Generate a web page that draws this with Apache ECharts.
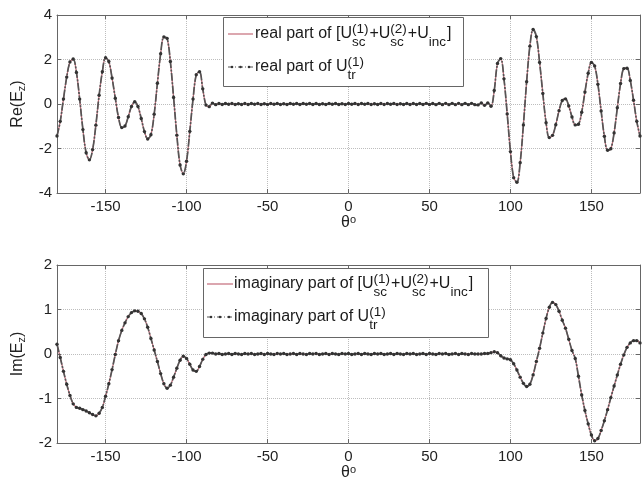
<!DOCTYPE html>
<html><head><meta charset="utf-8">
<script src="https://cdn.jsdelivr.net/npm/echarts@6/dist/echarts.min.js"></script>
<style>html,body{margin:0;padding:0;background:#fff}#c{width:642px;height:486px}</style>
</head><body><div id="c"></div>
<script>
// sample angles (degrees), every 2 degrees from -180 to 180
const theta = [];
for (let a = -180; a <= 180; a += 2) theta.push(a);

// Re(E_z)
const reValues = [
 -1.44,-0.78,0.23,1.21,1.89,2.02,1.42,0.22,-1.15,-2.19,
 -2.51,-2.05,-0.95,0.39,1.45,2.08,1.91,1.17,0.26,-0.61,
 -1.06,-0.99,-0.57,-0.11,0.10,-0.11,-0.65,-1.24,-1.57,-1.38,
 -0.46,0.93,2.26,3.01,2.95,1.91,0.29,-1.40,-2.74,-3.14,
 -2.57,-1.23,0.22,1.32,1.45,0.68,-0.05,-0.12,0.04,-0.03,
 0.02,-0.02,0.02,-0.01,0.02,-0.02,0.01,-0.02,0.02,-0.02,
 0.02,-0.01,0.02,-0.02,0.01,-0.02,0.02,-0.01,0.02,-0.02,
 0.01,-0.02,0.02,-0.01,0.02,-0.02,0.02,-0.01,0.02,-0.02,
 0.02,-0.02,0.01,-0.02,0.02,-0.01,0.02,-0.02,0.01,-0.02,
 0.02,-0.01,0.02,-0.02,0.02,-0.01,0.02,-0.02,0.01,-0.02,
 0.02,-0.02,0.02,-0.01,0.02,-0.02,0.01,-0.02,0.02,-0.02,
 0.02,-0.02,0.02,-0.02,0.03,-0.02,0.02,-0.03,0.03,-0.03,
 0.03,-0.03,0.03,-0.03,0.03,-0.03,0.03,-0.03,0.03,-0.03,
 -0.04,0.05,-0.06,0.05,-0.10,0.61,1.82,2.04,1.13,-0.45,
 -2.14,-3.31,-3.52,-2.64,-0.94,1.00,2.60,3.35,3.03,1.87,
 0.47,-0.84,-1.51,-1.41,-0.93,-0.30,0.16,0.23,-0.09,-0.58,
 -0.94,-0.91,-0.37,0.54,1.38,1.87,1.71,0.89,-0.31,-1.45,
 -2.08,-2.01,-1.30,-0.17,0.92,1.59,1.61,1.06,0.17,-0.78,
 -1.44
];
// Im(E_z)
const imValues = [
 0.22,-0.08,-0.39,-0.68,-0.93,-1.12,-1.20,-1.22,-1.25,-1.28,
 -1.32,-1.36,-1.39,-1.33,-1.20,-0.95,-0.67,-0.35,-0.01,0.30,
 0.53,0.70,0.84,0.93,0.97,0.96,0.91,0.79,0.60,0.35,
 0.09,-0.17,-0.44,-0.67,-0.77,-0.70,-0.52,-0.32,-0.14,-0.05,
 -0.10,-0.23,-0.36,-0.39,-0.28,-0.12,-0.01,0.02,0.02,0.00,
 0.01,-0.01,0.00,0.01,-0.01,0.01,0.00,-0.01,0.01,0.00,
 0.01,-0.01,0.00,0.01,-0.01,0.01,0.00,-0.01,0.01,0.00,
 0.01,-0.01,0.00,0.01,-0.01,0.01,0.00,-0.01,0.01,0.00,
 0.01,-0.01,0.00,0.01,-0.01,0.01,0.00,-0.01,0.01,0.00,
 0.01,-0.01,0.00,0.01,-0.01,0.01,0.00,-0.01,0.01,0.00,
 0.01,-0.01,0.00,0.01,-0.01,0.01,0.00,-0.01,0.01,0.00,
 0.01,-0.01,0.00,0.01,-0.01,0.01,0.00,-0.01,0.01,0.00,
 0.01,-0.01,0.00,0.01,-0.01,0.01,0.00,-0.01,0.01,0.00,
 0.00,0.00,0.01,0.01,0.03,0.05,0.03,-0.04,-0.09,-0.11,
 -0.13,-0.22,-0.36,-0.52,-0.66,-0.73,-0.68,-0.47,-0.17,0.13,
 0.47,0.80,1.05,1.16,1.11,0.96,0.76,0.58,0.33,0.08,
 -0.10,-0.50,-0.92,-1.27,-1.57,-1.82,-1.95,-1.90,-1.72,-1.50,
 -1.25,-0.98,-0.72,-0.47,-0.23,-0.02,0.15,0.25,0.30,0.30,
 0.25
];
const xTicks = [-150, -100, -50, 0, 50, 100, 150];
const reTicks = [-4, -2, 0, 2, 4];
const imTicks = [-2, -1, 0, 1, 2];

const FONT = '"Liberation Sans", Arial, Helvetica, sans-serif';
const frameColor = '#666666';
const gridColor = '#bdbdbd';
const redColor = '#c46c7a';
const blackColor = '#555555';

function pairs(vals) { return theta.map((t, i) => [t, vals[i]]); }

function xAxisDef(grid, pos) {
  const bottom = pos === 'bottom';
  return {
    type: 'value', gridIndex: grid, position: pos, min: -180, max: 180,
    axisLine: { show: true, onZero: false, lineStyle: { color: frameColor, width: 1 } },
    axisTick: { show: true, inside: true, length: 4, customValues: xTicks, lineStyle: { color: frameColor } },
    axisLabel: { show: bottom, customValues: xTicks, fontSize: 15, color: '#222', margin: 6, fontFamily: FONT },
    splitLine: { show: bottom, lineStyle: { type: 'dotted', color: gridColor, width: 1 } },
    name: bottom ? 'θ{o|o}' : '', nameLocation: 'middle', nameGap: 19,
    nameTextStyle: { fontSize: 16, color: '#222', fontFamily: FONT,
      rich: { o: { fontSize: 11, verticalAlign: 'top', color: '#222', fontFamily: FONT } } }
  };
}
function yAxisDef(grid, pos, lo, hi, step, nm) {
  const left = pos === 'left';
  return {
    type: 'value', gridIndex: grid, position: pos, min: lo, max: hi, interval: step,
    axisLine: { show: true, onZero: false, lineStyle: { color: frameColor, width: 1 } },
    axisTick: { show: true, inside: true, length: 4, lineStyle: { color: frameColor } },
    axisLabel: { show: left, fontSize: 15, color: '#222', margin: 5, fontFamily: FONT },
    splitLine: { show: left, lineStyle: { type: 'dotted', color: gridColor, width: 1 } },
    name: left ? nm : '', nameLocation: 'middle', nameGap: 30, nameRotate: 90,
    nameTextStyle: { fontSize: 16, color: '#222', fontFamily: FONT,
      rich: { z: { fontSize: 11, color: '#222', fontFamily: FONT, verticalAlign: 'bottom', padding: [8, 0, 0, 0] } } }
  };
}

function lineSeries(name, vals, xi, yi, black) {
  if (!black) return {
    type: 'line', name: name, xAxisIndex: xi, yAxisIndex: yi, data: pairs(vals), smooth: 0.35,
    showSymbol: false, symbol: 'none', lineStyle: { color: redColor, width: 1.2 }, z: 2, silent: true
  };
  return {
    type: 'line', name: name, xAxisIndex: xi, yAxisIndex: yi, data: pairs(vals), smooth: 0.35,
    symbol: 'circle', symbolSize: 3.4, showAllSymbol: true,
    itemStyle: { color: '#333333', borderWidth: 0 },
    lineStyle: { color: blackColor, width: 1.7, type: [8, 1.5, 2, 1.5] }, z: 3, silent: true
  };
}

// ---- legend drawn with graphic (stacked super/subscripts) ----
const mctx = document.createElement('canvas').getContext('2d');
const MAIN = 16, SMALL = 13.5;
function tw(t, s) { mctx.font = s + 'px ' + FONT; return mctx.measureText(t).width; }
function txt(t, x, y, s) {
  return { type: 'text', z: 101, silent: true,
    style: { text: t, x: x, y: y, fill: '#1a1a1a', font: s + 'px ' + FONT, verticalAlign: 'middle', align: 'left' } };
}
function layout(tokens, x0, y, out) {
  let x = x0;
  tokens.forEach(tk => {
    if (tk.n) { out.push(txt(tk.n, x, y, MAIN)); x += tw(tk.n, MAIN); }
    else {
      let ww = 0;
      if (tk.sup) { out.push(txt(tk.sup, x, y - 5, SMALL)); ww = Math.max(ww, tw(tk.sup, SMALL)); }
      if (tk.sub) { out.push(txt(tk.sub, x, y + 8, SMALL)); ww = Math.max(ww, tw(tk.sub, SMALL)); }
      x += ww + 1;
    }
  });
  return x;
}
function legendBlock(box, row1, row2, sampleX0, sampleX1, textX, y1, y2) {
  const out = [];
  out.push({ type: 'rect', z: 100, silent: true, shape: box, style: { fill: '#fff', stroke: frameColor, lineWidth: 1 } });
  out.push({ type: 'line', z: 101, silent: true, shape: { x1: sampleX0, y1: y1, x2: sampleX1, y2: y1 }, style: { stroke: redColor, lineWidth: 1.2 } });
  out.push({ type: 'line', z: 101, silent: true, shape: { x1: sampleX0, y1: y2, x2: sampleX1, y2: y2 }, style: { stroke: blackColor, lineWidth: 1.2, lineDash: [5, 2, 1, 2] } });
  [sampleX0 + 4, (sampleX0 + sampleX1) / 2, sampleX1 - 4].forEach(cx => {
    out.push({ type: 'circle', z: 102, silent: true, shape: { cx: cx, cy: y2, r: 1.3 }, style: { fill: '#333' } });
  });
  layout(row1, textX, y1, out);
  layout(row2, textX, y2, out);
  return out;
}
const reRow1 = [{ n: 'real part of [U' }, { sup: '(1)', sub: 'sc' }, { n: '+U' }, { sup: '(2)', sub: 'sc' }, { n: '+U' }, { sub: 'inc' }, { n: ']' }];
const reRow2 = [{ n: 'real part of U' }, { sup: '(1)', sub: 'tr' }];
const imRow1 = [{ n: 'imaginary part of [U' }, { sup: '(1)', sub: 'sc' }, { n: '+U' }, { sup: '(2)', sub: 'sc' }, { n: '+U' }, { sub: 'inc' }, { n: ']' }];
const imRow2 = [{ n: 'imaginary part of U' }, { sup: '(1)', sub: 'tr' }];

const graphics = []
  .concat(legendBlock({ x: 223.5, y: 17.5, width: 240, height: 69 }, reRow1, reRow2, 228, 253, 255, 34, 67))
  .concat(legendBlock({ x: 203.5, y: 268.5, width: 285, height: 69 }, imRow1, imRow2, 207, 233, 234, 284, 317));

const chart = echarts.init(document.getElementById('c'), null, { renderer: 'canvas' });
chart.setOption({
  animation: false,
  backgroundColor: '#fff',
  grid: [
    { left: 57, right: 2, top: 15, height: 178, containLabel: false },
    { left: 57, right: 2, top: 265, height: 178, containLabel: false }
  ],
  xAxis: [xAxisDef(0, 'bottom'), xAxisDef(0, 'top'), xAxisDef(1, 'bottom'), xAxisDef(1, 'top')],
  yAxis: [
    yAxisDef(0, 'left', -4, 4, 2, 'Re(E{z|z})'), yAxisDef(0, 'right', -4, 4, 2, ''),
    yAxisDef(1, 'left', -2, 2, 1, 'Im(E{z|z})'), yAxisDef(1, 'right', -2, 2, 1, '')
  ],
  series: [
    lineSeries('real part of [Usc(1)+Usc(2)+Uinc]', reValues, 0, 0, false),
    lineSeries('real part of Utr(1)', reValues, 0, 0, true),
    lineSeries('imaginary part of [Usc(1)+Usc(2)+Uinc]', imValues, 2, 2, false),
    lineSeries('imaginary part of Utr(1)', imValues, 2, 2, true)
  ],
  graphic: graphics
});
</script>
</body></html>
